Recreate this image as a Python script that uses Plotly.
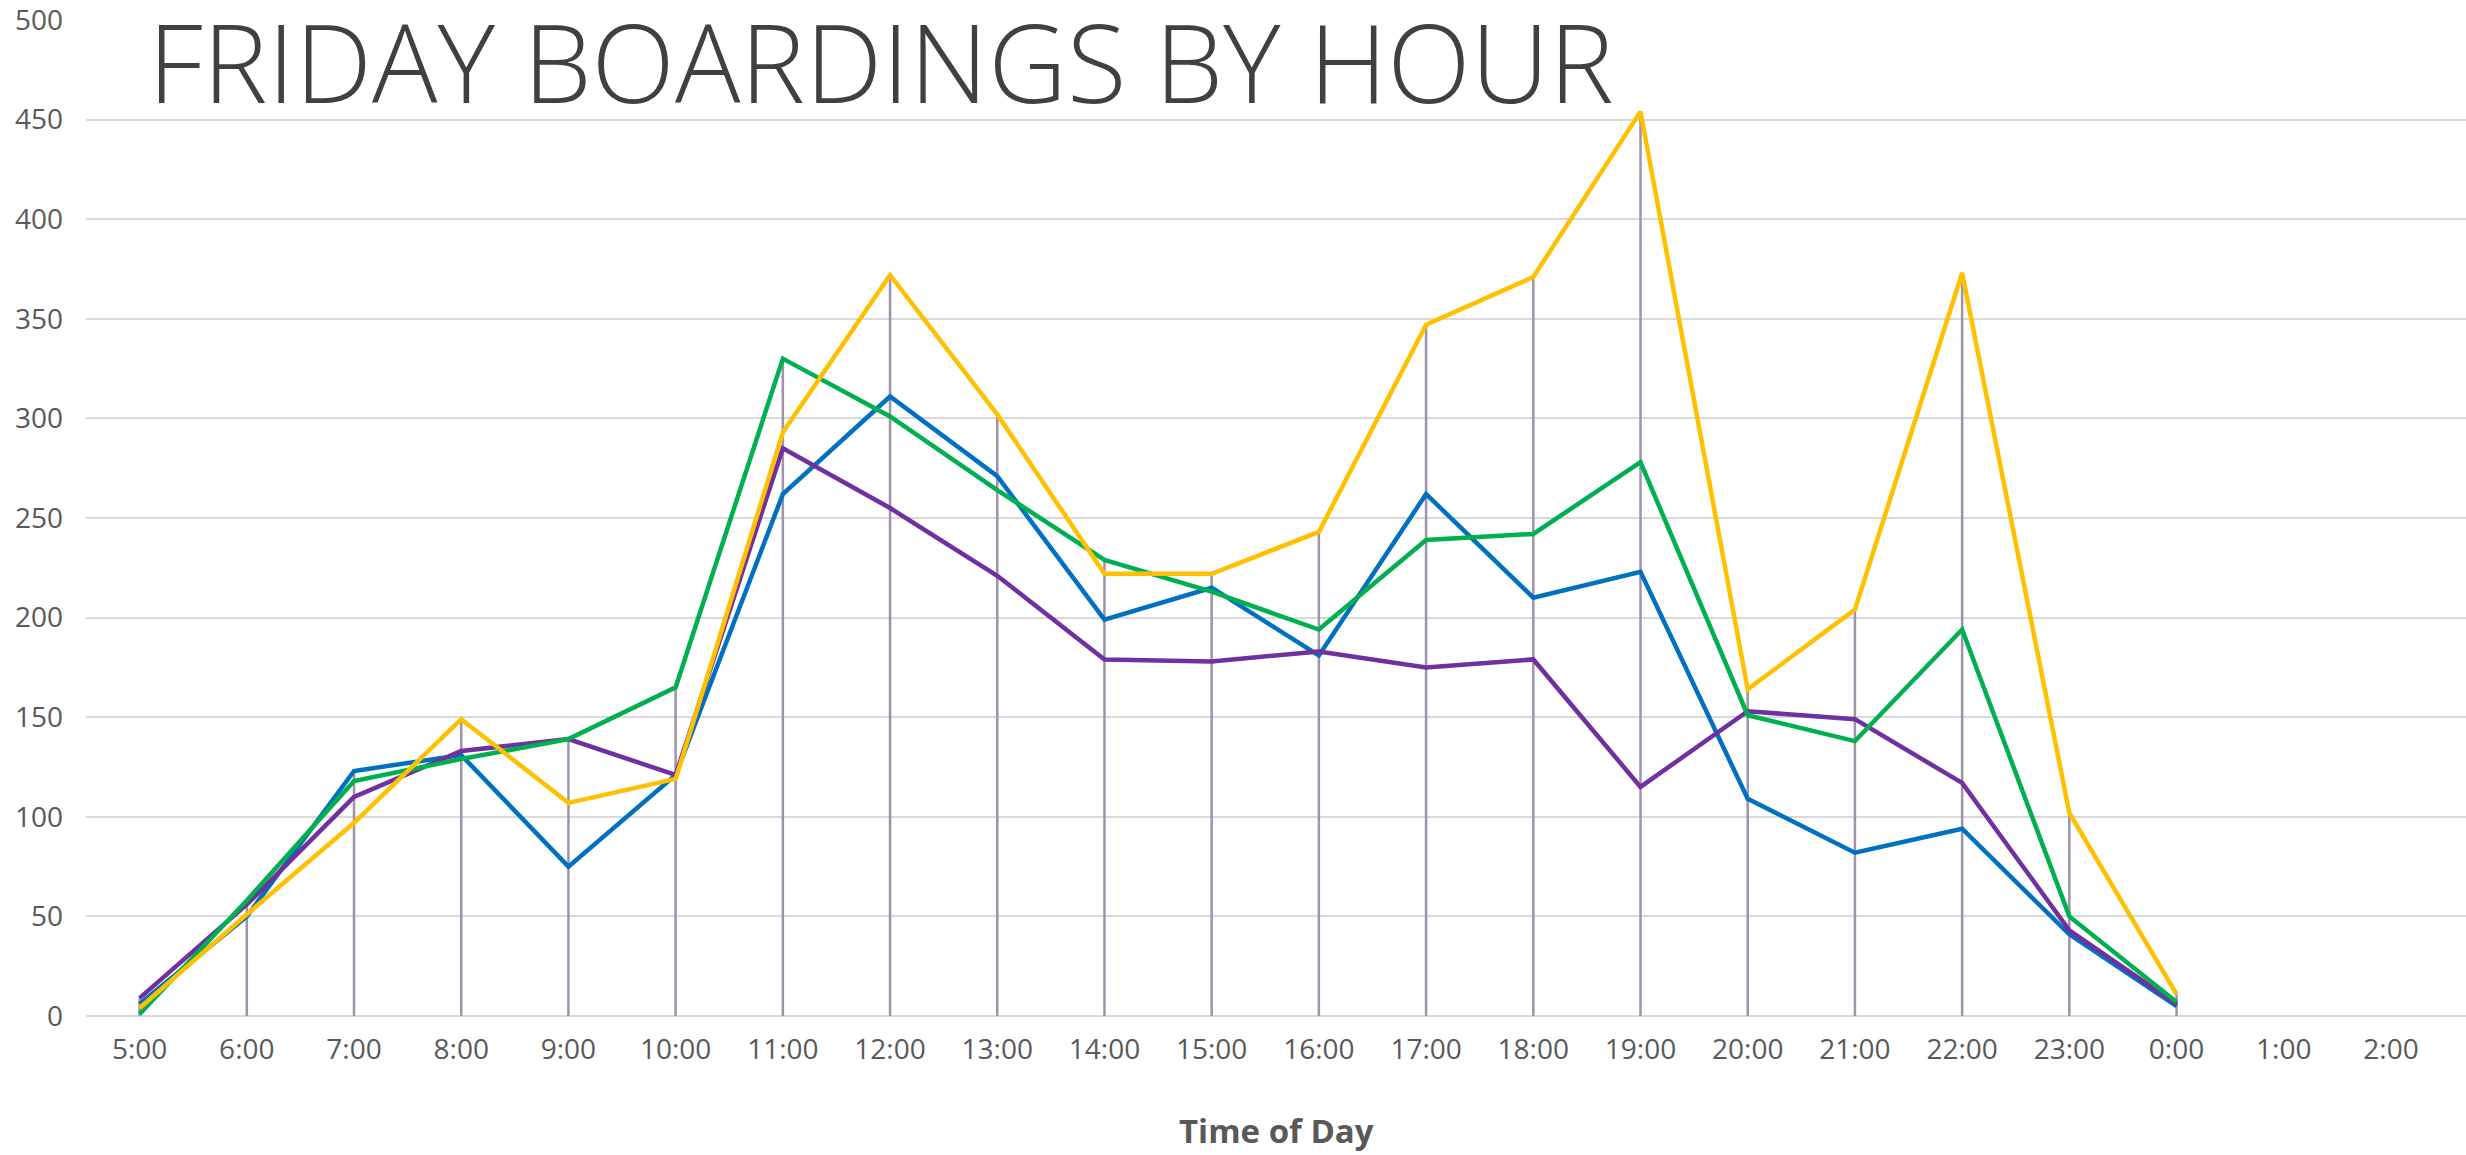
import plotly.graph_objects as go

HOURS = ["5:00", "6:00", "7:00", "8:00", "9:00", "10:00", "11:00", "12:00",
         "13:00", "14:00", "15:00", "16:00", "17:00", "18:00", "19:00", "20:00",
         "21:00", "22:00", "23:00", "0:00", "1:00", "2:00"]

BLUE = [6, 50, 123, 131, 75, 121, 262, 311, 271, 199, 215, 181, 262, 210,
        223, 109, 82, 94, 41, 5, None, None]
PURPLE = [9, 56, 110, 133, 139, 121, 285, 255, 221, 179, 178, 183, 175, 179,
          115, 153, 149, 117, 43, 6, None, None]
GREEN = [1, 58, 118, 129, 139, 165, 330, 301, 264, 229, 213, 194, 239, 242,
         278, 151, 138, 194, 50, 7, None, None]
YELLOW = [4, 51, 97, 149, 107, 119, 293, 372, 302, 222, 222, 243, 347, 371,
          454, 164, 204, 373, 102, 11, None, None]

Y_TICKS = [0, 50, 100, 150, 200, 250, 300, 350, 400, 450, 500]

SERIES = [
    ("Blue", BLUE, "#0070C0"),
    ("Purple", PURPLE, "#7030A0"),
    ("Green", GREEN, "#00B050"),
    ("Yellow", YELLOW, "#FFC000"),
]

GRID = "#D9D9D9"
TEXT = "#595959"
DROP = "#A092AA"

W, H = 2466, 1155
M_L, M_R, M_T, M_B = 86, 0, 16, 139

fig = go.Figure()

# drop lines: from the highest series value at each hour down to the axis
drop_x, drop_y = [], []
for i, h in enumerate(HOURS):
    vals = [s[1][i] for s in SERIES if s[1][i] is not None]
    if not vals:
        continue
    drop_x += [h, h, None]
    drop_y += [0, max(vals), None]
fig.add_trace(go.Scatter(
    x=drop_x, y=drop_y, mode="lines",
    line=dict(color=DROP, width=2.5),
    hoverinfo="skip", showlegend=False,
))

for name, vals, color in SERIES:
    fig.add_trace(go.Scatter(
        x=HOURS, y=vals, mode="lines", name=name,
        line=dict(color=color, width=4.5),
        connectgaps=False, showlegend=False,
    ))

plot_w = W - M_L - M_R
plot_h = H - M_T - M_B

# big title sitting inside the plot area
fig.add_annotation(
    text="FRIDAY BOARDINGS BY HOUR",
    xref="paper", yref="paper",
    x=(146 - M_L) / plot_w, y=1 - (58 - M_T) / plot_h,
    xanchor="left", yanchor="middle", showarrow=False,
    font=dict(family="Open Sans", size=109, color="#404040", weight=300),
)

fig.add_annotation(
    text="<b>Time of Day</b>",
    xref="paper", yref="paper",
    x=0.5, y=-(1131 - (H - M_B)) / plot_h,
    xanchor="center", yanchor="middle", showarrow=False,
    font=dict(family="Open Sans", size=33, color=TEXT),
)

fig.update_layout(
    width=W, height=H,
    margin=dict(l=M_L, r=M_R, t=M_T, b=M_B),
    paper_bgcolor="white",
    plot_bgcolor="white",
    font=dict(family="Open Sans", color=TEXT),
    xaxis=dict(
        type="category",
        categoryorder="array", categoryarray=HOURS,
        range=[-0.5, 21.7],
        showgrid=False, zeroline=False, showline=False,
        ticks="", ticklabelstandoff=14,
        tickfont=dict(size=28, color=TEXT),
    ),
    yaxis=dict(
        range=[0, 500.5],
        tickmode="array", tickvals=Y_TICKS,
        showgrid=True, gridcolor=GRID, gridwidth=2,
        zeroline=True, zerolinecolor=GRID, zerolinewidth=2,
        showline=False, ticks="", ticklabelstandoff=22,
        ticklabeloverflow="allow",
        tickfont=dict(size=28, color=TEXT),
    ),
)

fig.write_html("out.html", config={"displayModeBar": False},
               post_script="document.body.style.margin='0';")
